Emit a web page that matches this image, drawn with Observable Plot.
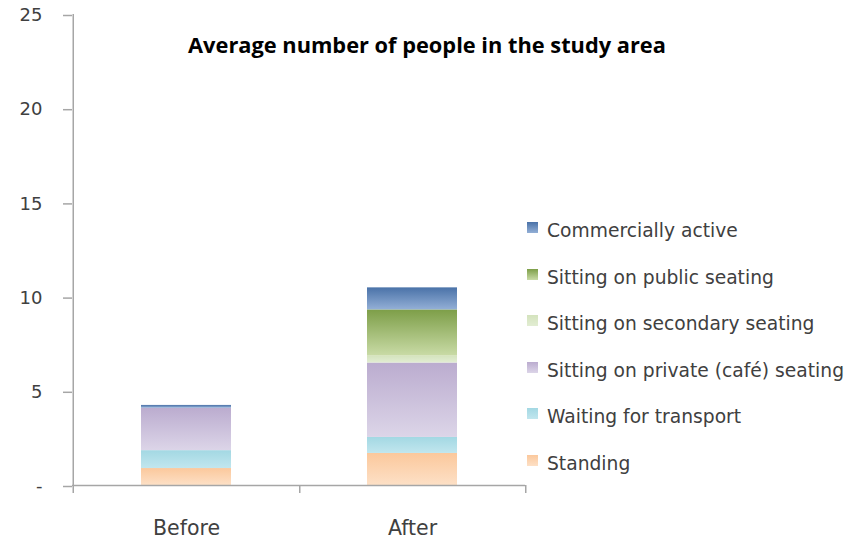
<!DOCTYPE html>
<html>
<head>
<meta charset="utf-8">
<script src="https://cdn.jsdelivr.net/npm/d3@7"></script>
<script src="https://cdn.jsdelivr.net/npm/@observablehq/plot@0.6"></script>
<style>
  html, body { margin: 0; padding: 0; background: #fff; }
  #wrap { position: relative; width: 846px; height: 541px; font-family: "DejaVu Sans", sans-serif; }
  #title { position: absolute; left: 0; width: 854px; top: 31px; text-align: center; font-family: "Open Sans", Lato, sans-serif; font-weight: bold; font-size: 21.8px; line-height: 28px; color: #000; }
  #legend { position: absolute; left: 527px; top: 220px; color: #404040; font-size: 18.7px; }
  .row { position: absolute; left: 0; white-space: nowrap; display: flex; align-items: center; }
  .sw { width: 11px; height: 11px; margin-right: 9px; margin-top: -6px; }
</style>
</head>
<body>
<div id="wrap">
  <div id="chart"></div>
  <div id="title">Average number of people in the study area</div>
  <div id="legend"></div>
</div>
<script>
// ---- data ----
const categories = ["Before", "After"];
// series in stacking order, bottom to top
const series = [
  "Standing",
  "Waiting for transport",
  "Sitting on private (café) seating",
  "Sitting on secondary seating",
  "Sitting on public seating",
  "Commercially active"
];
const beforeValues = [0.9, 0.95, 2.25, 0.0, 0.0, 0.15];
const afterValues  = [1.7, 0.85, 3.95, 0.37, 2.45, 1.17];
const yTicks = [0, 5, 10, 15, 20, 25];
// gradient colours (top, bottom) per series
const gradTop    = ["#fbc89c", "#a3d8e3", "#bbaccf", "#d4e3bd", "#7d9e48", "#4a72a8"];
const gradBottom = ["#fde0c6", "#c1e6ee", "#dcd5e8", "#e2edd3", "#c9dba6", "#93afd6"];
// legend order (top to bottom)
const legendOrder = [5, 4, 3, 2, 1, 0];

// ---- build table ----
const data = [];
categories.forEach((cat, ci) => {
  const vals = ci === 0 ? beforeValues : afterValues;
  series.forEach((s, si) => data.push({period: cat, series: s, si, value: vals[si]}));
});

const W = 846, H = 541, mL = 72, mR = 321, mT = 14, mB = 56;
const halfStep = (W - mL - mR) / categories.length / 2;
const axisGray = "#a6a6a6";

const chart = Plot.plot({
  width: W, height: H,
  marginLeft: mL, marginRight: mR, marginTop: mT, marginBottom: mB,
  style: {fontFamily: "'DejaVu Sans', sans-serif", background: "#fff"},
  x: {domain: categories, padding: 0, label: null},
  y: {domain: [0, 25], label: null},
  color: {type: "identity"},
  marks: [
    Plot.barY(data, {
      x: "period", y: "value", z: "series",
      fill: d => `url(#grad${d.si})`,
      insetLeft: 68, insetRight: 68, order: null
    }),
    Plot.ruleY([0], {stroke: axisGray, strokeWidth: 1.5}),
    Plot.ruleX([categories[0]], {x: d => d, dx: -halfStep, stroke: axisGray, strokeWidth: 1.5, insetBottom: -8}),
    Plot.ruleX(categories, {x: d => d, dx: halfStep, y1: 0, y2: 0, stroke: axisGray, strokeWidth: 1.5, insetBottom: -8}),
    Plot.axisY({
      ticks: yTicks, tickSize: 9, tickPadding: 21,
      tickFormat: d => d === 0 ? "-" : String(d),
      stroke: axisGray, strokeWidth: 1.5, fill: "#404040",
      fontSize: 18, dy: 1, label: null
    }),
    Plot.axisX({
      tickSize: 0, tickPadding: 35, fill: "#404040", fontSize: 20.5, label: null
    })
  ]
});

// gradient definitions
const svg = d3.select(chart);
const defs = svg.insert("defs", ":first-child");
series.forEach((s, i) => {
  const g = defs.append("linearGradient").attr("id", `grad${i}`)
    .attr("x1", 0).attr("y1", 0).attr("x2", 0).attr("y2", 1);
  g.append("stop").attr("offset", "0%").attr("stop-color", gradTop[i]);
  g.append("stop").attr("offset", "100%").attr("stop-color", gradBottom[i]);
});
document.getElementById("chart").appendChild(chart);

// legend
const legend = d3.select("#legend");
legendOrder.forEach((si, k) => {
  const row = legend.append("div").attr("class", "row").style("top", `${k * 46.6}px`);
  row.append("div").attr("class", "sw")
    .style("background", `linear-gradient(${gradTop[si]}, ${gradBottom[si]})`);
  row.append("span").text(series[si]);
});
</script>
</body>
</html>
